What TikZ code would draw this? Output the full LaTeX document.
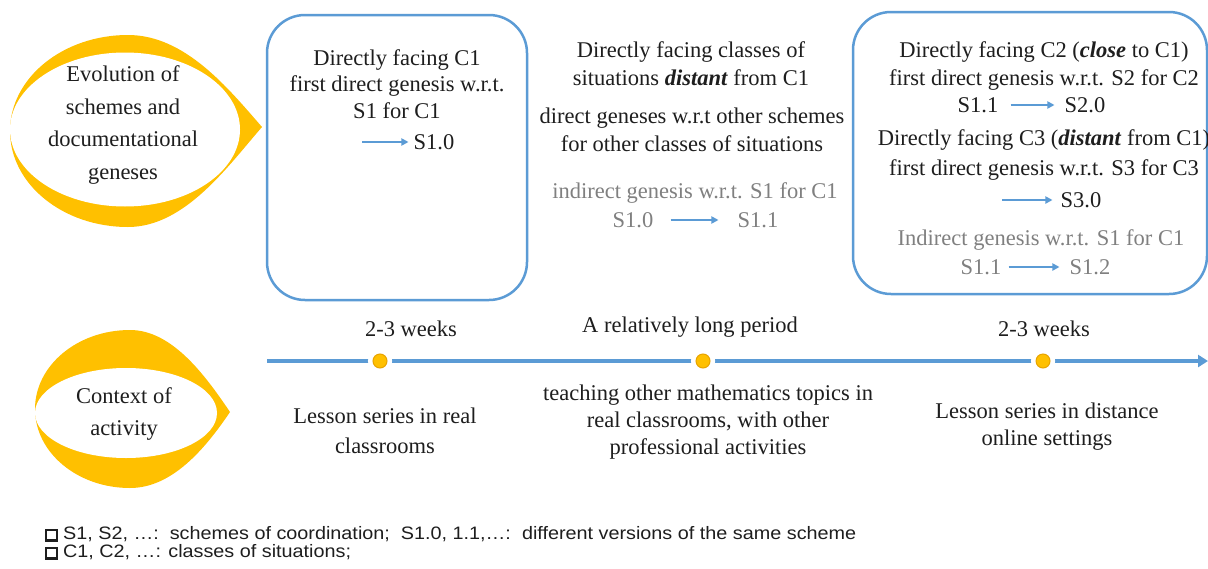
\documentclass[tikz,border=0pt]{standalone}
\usepackage{fontspec}
\setmainfont{Liberation Serif}
\newfontfamily\legendfont{Liberation Sans}
\usetikzlibrary{arrows.meta}
\definecolor{eyeyel}{HTML}{FFC000}
\definecolor{dotedge}{HTML}{E8A400}
\definecolor{boxblue}{HTML}{5B9BD5}
\definecolor{txtgray}{HTML}{808080}
\definecolor{txtdark}{HTML}{1E1E1E}
\newcommand{\legsq}{{\setlength{\fboxrule}{2.2pt}\setlength{\fboxsep}{0pt}\raisebox{0pt}{\fbox{\rule{0pt}{8.5pt}\hspace{8.5pt}}}}}
\begin{document}
\begin{tikzpicture}[x=1pt,y=-1pt,
  lbl/.style={align=center, font=\fontsize{22.5}{26.5}\selectfont, text=txtdark, inner sep=0pt},
  lblwide/.style={lbl, font=\fontsize{22.5}{28}\selectfont},
  eyelbl/.style={lbl, font=\fontsize{22.5}{32.5}\selectfont},
  glbl/.style={lbl, text=txtgray},
  roundbox/.style={draw=boxblue, line width=2.5pt, rounded corners=38pt, inner sep=0pt},
  smallarr/.style={draw=boxblue, line width=1.8pt, -{Triangle[length=7pt,width=7pt]}},
  timeline/.style={draw=boxblue, line width=4pt},
  tdot/.style={circle, fill=eyeyel, draw=dotedge, line width=1pt, minimum size=14pt, inner sep=0pt,
    preaction={draw=white, line width=10pt}},
  legend/.style={anchor=west, inner sep=0pt, font=\legendfont\fontsize{18}{20}\selectfont, text=txtdark}
]
\useasboundingbox (0,0) rectangle (1208,568);
\fill[white] (0,0) rectangle (1208,568);

% --- top eye
\fill[eyeyel] (262,127) .. controls (228,88) and (185,35) .. (128,35)
  .. controls (62.8,35) and (10,78) .. (10,131)
  .. controls (10,184) and (62.8,227) .. (128,227)
  .. controls (185,227) and (228,166) .. cycle;
\fill[white] (240,129.5) .. controls (240,87) and (188.5,52.5) .. (125,52.5)
  .. controls (61.5,52.5) and (10,87) .. (10,129.5)
  .. controls (10,172) and (61.5,206.5) .. (125,206.5)
  .. controls (188.5,206.5) and (240,172) .. cycle;
\node[eyelbl] (evo) at (123,125) {Evolution of\\schemes and\\documentational\\geneses};

% --- bottom eye
\fill[eyeyel] (230,412) .. controls (205,375) and (172,330) .. (130,330)
  .. controls (77.5,330) and (35,365.4) .. (35,409)
  .. controls (35,452.6) and (77.5,488) .. (130,488)
  .. controls (172,488) and (205,449) .. cycle;
\fill[white] (217,413) .. controls (217,388.1) and (176.3,368) .. (126,368)
  .. controls (75.7,368) and (35,388.1) .. (35,413)
  .. controls (35,437.9) and (75.7,458) .. (126,458)
  .. controls (176.3,458) and (217,437.9) .. cycle;
\node[eyelbl] (ctx) at (124,414) {Context of\\activity};

% --- box 1
\node[roundbox, minimum width=260pt, minimum height=285pt] (box1) at (397,157.5) {};
\node[lbl] (b1t) at (397,84) {Directly facing C1\\first direct genesis w.r.t.\\S1 for C1};
\node[lbl] (s10a) at (434,142) {S1.0};
\coordinate (b1from) at (362,142);
\draw[smallarr, shorten >=5pt] (b1from) -- (s10a.west);

% --- middle column
\node[lblwide] (m1) at (691,64) {Directly facing classes of\\situations \textbf{\textit{distant}} from C1};
\node[lblwide] (m2) at (692,130) {direct geneses w.r.t other schemes\\for other classes of situations};
\node[glbl] (m3) at (695,193) {indirect genesis w.r.t. S1 for C1};
\node[glbl] (ms10) at (633,220) {S1.0};
\node[glbl] (ms11) at (758,220) {S1.1};
\draw[smallarr, shorten <=17pt, shorten >=19pt] (ms10.east) -- (ms11.west);

% --- box 3
\node[roundbox, minimum width=354pt, minimum height=282pt] (box3) at (1030,153) {};
\node[lblwide] (b3a) at (1044,66) {Directly facing C2 (\textbf{\textit{close}} to C1)\\first direct genesis w.r.t. S2 for C2};
\node[lbl] (c2s11) at (978,105) {S1.1};
\node[lbl] (c2s20) at (1085,105) {S2.0};
\draw[smallarr, shorten <=12pt, shorten >=10pt] (c2s11.east) -- (c2s20.west);
\node[lblwide, font=\fontsize{22.5}{30}\selectfont] (b3b) at (1044,155) {Directly facing C3 (\textbf{\textit{distant}} from C1)\\first direct genesis w.r.t. S3 for C3};
\node[lbl] (c3s30) at (1081,200) {S3.0};
\coordinate (c3from) at (1002,200);
\draw[smallarr, shorten >=8pt] (c3from) -- (c3s30.west);
\node[glbl] (b3c) at (1041,240) {Indirect genesis w.r.t. S1 for C1};
\node[glbl] (g3s11) at (981,267) {S1.1};
\node[glbl] (g3s12) at (1090,267) {S1.2};
\draw[smallarr, shorten <=7pt, shorten >=10pt] (g3s11.east) -- (g3s12.west);

% --- timeline
\coordinate (tl0) at (267,361);
\coordinate (tl1) at (1208,361);
\draw[timeline, -{Triangle[length=10pt,width=12pt]}] (tl0) -- (tl1);
\node[tdot] (d1) at (380,361) {};
\node[tdot] (d2) at (703,361) {};
\node[tdot] (d3) at (1043,361) {};
\node[lbl] (w1) at (411,329) {2-3 weeks};
\node[lbl] (w2) at (690,327) {A relatively long period};
\node[lbl] (w3) at (1044,329) {2-3 weeks};
\node[lbl, font=\fontsize{22.5}{30}\selectfont] (a1) at (385,431) {Lesson series in real\\classrooms};
\node[lbl, font=\fontsize{22.5}{27}\selectfont] (a2) at (708,422) {teaching other mathematics topics in\\real classrooms, with other\\professional activities};
\node[lbl, font=\fontsize{22.5}{27}\selectfont] (a3) at (1047,427) {Lesson series in distance\\online settings};

% --- legend
\node[legend] (leg1) at (45,534) {\legsq\ \scalebox{1.1}[1]{S1, S2, \ldots:\ \ schemes of coordination;\ \ S1.0, 1.1,\ldots:\ \ different versions of the same scheme}};
\node[legend] (leg2) at (45,552) {\legsq\ \scalebox{1.1}[1]{C1, C2, \ldots: classes of situations;}};
\end{tikzpicture}
\end{document}
